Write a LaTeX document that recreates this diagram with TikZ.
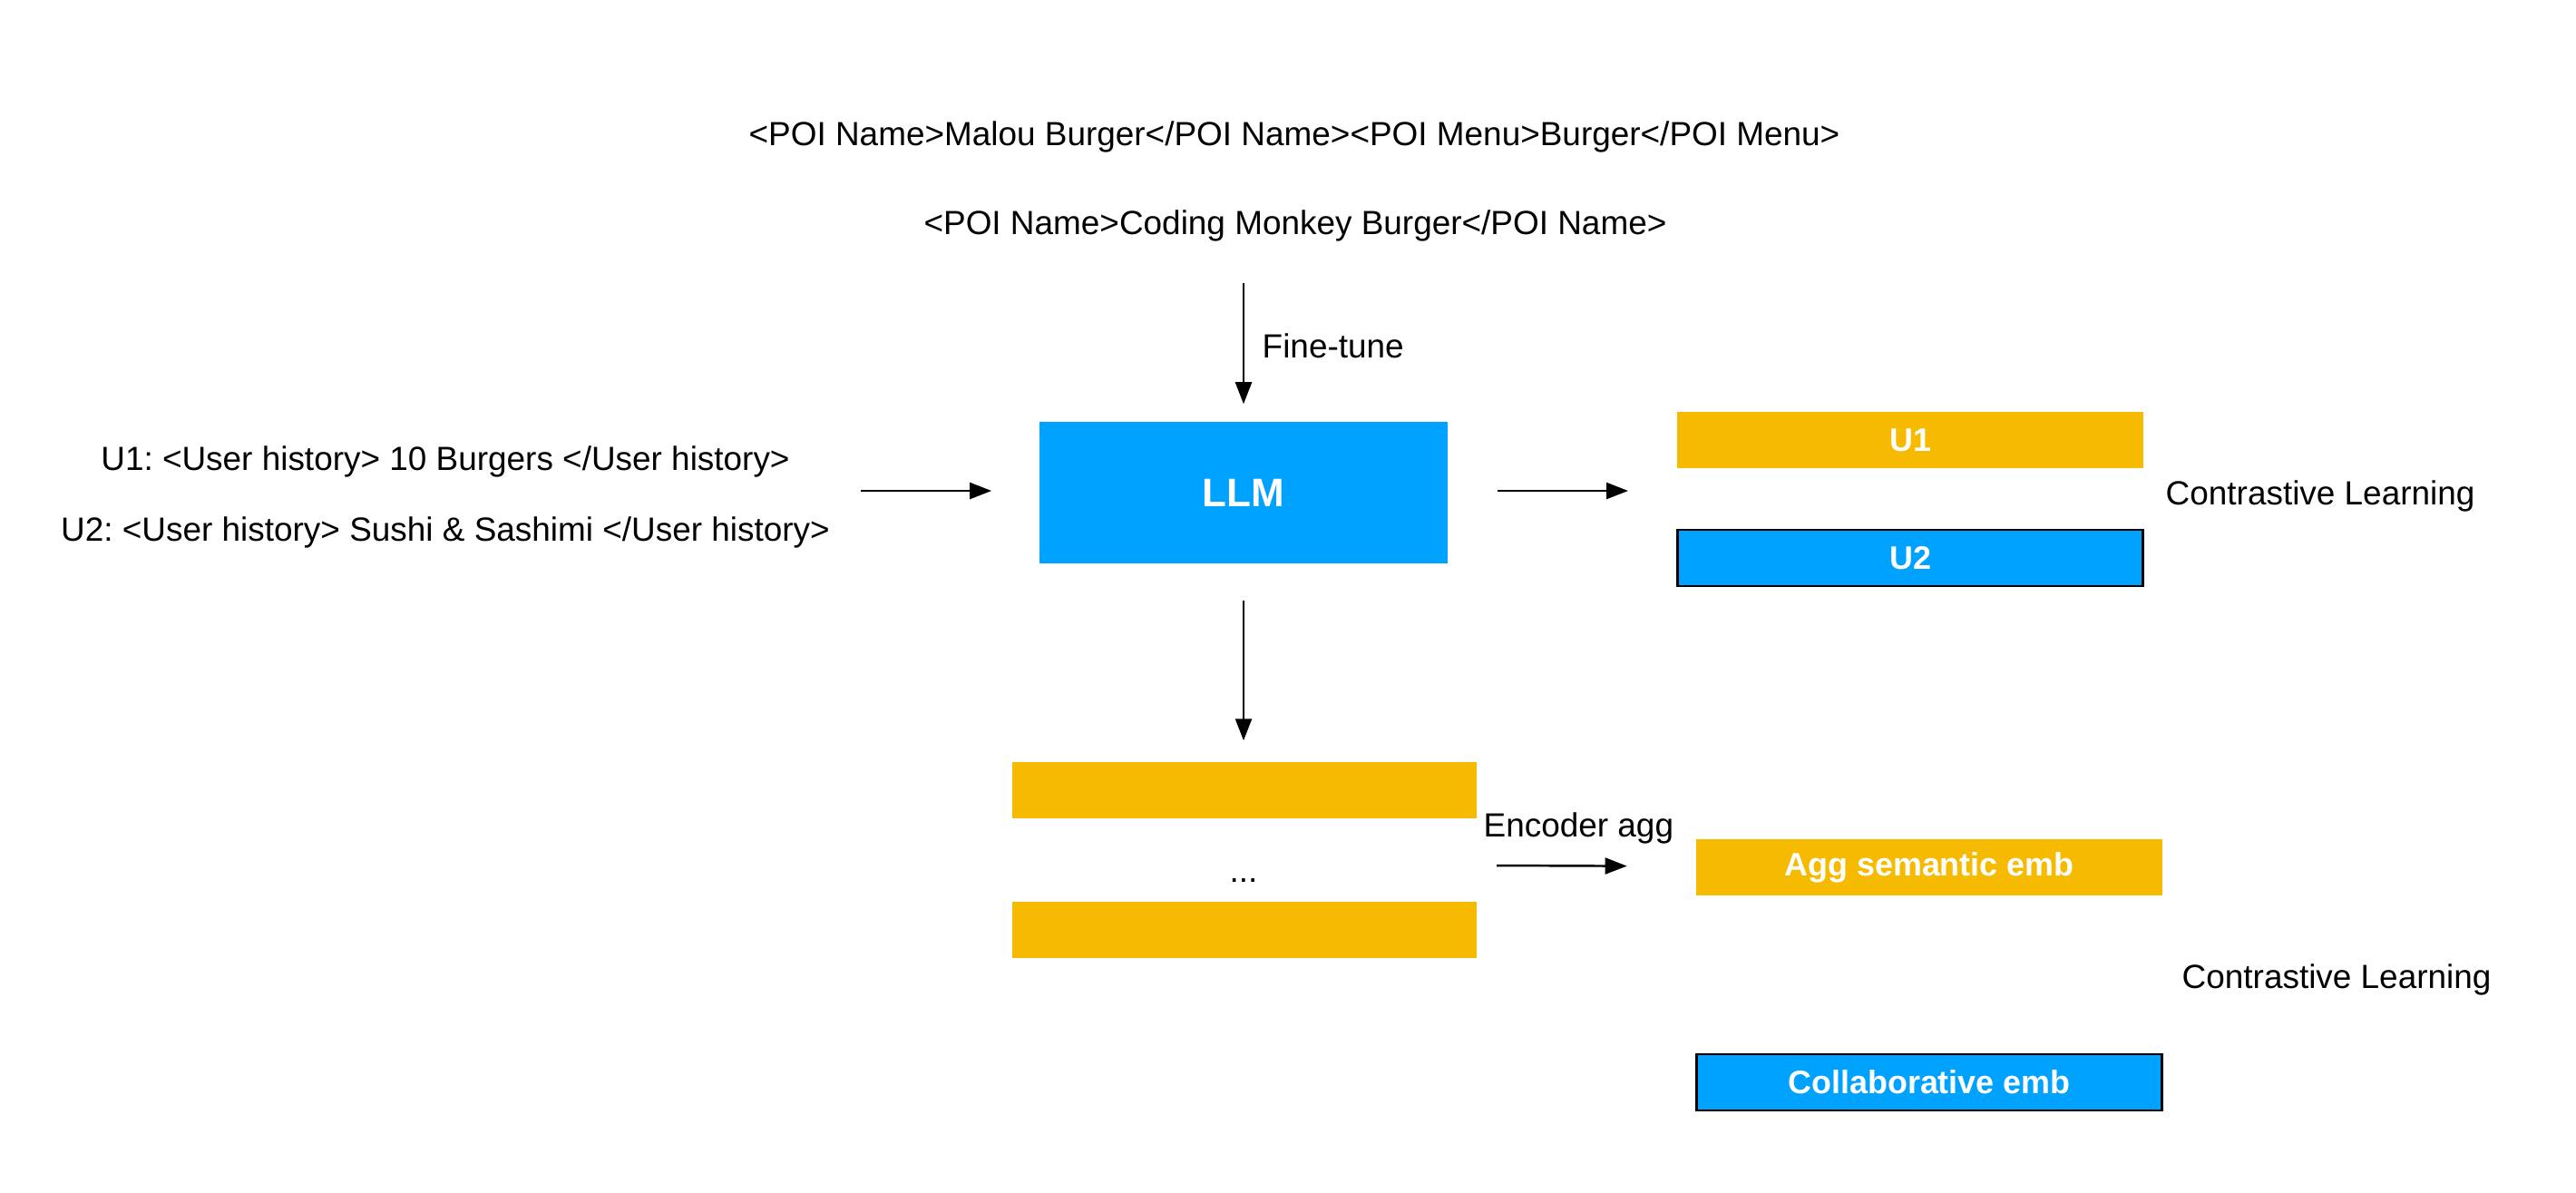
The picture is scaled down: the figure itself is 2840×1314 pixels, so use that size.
\documentclass[tikz,border=0pt]{standalone}
\usepackage{fontspec}
\setmainfont{Liberation Sans}
\usepackage{tikz}
\usetikzlibrary{arrows.meta,positioning}
\definecolor{barorange}{HTML}{F6BB00}
\definecolor{barblue}{HTML}{00A2FF}
\frenchspacing

\begin{document}
\begin{tikzpicture}[x=0.01cm,y=-0.01cm,
  txt/.style={font=\fontsize{10.5}{12}\selectfont, inner sep=0pt, yshift=-0.04cm},
  bar/.style={minimum width=5.13cm, minimum height=0.62cm, inner sep=0pt, text=white, font=\fontsize{10.2}{12}\selectfont\bfseries},
  obar/.style={bar, fill=barorange},
  bbar/.style={bar, fill=barblue, draw=black, line width=0.8pt},
  arr/.style={-{Triangle[length=2.4mm,width=1.8mm]}, line width=0.7pt}]
\useasboundingbox (0,0) rectangle (2840,1314);
%%%%% POI texts and fine-tune:
\node[txt] (poi1) at (1427,147) {<POI Name>Malou Burger</POI Name><POI Menu>Burger</POI Menu>};
\node[txt] (poi2) at (1428,245) {<POI Name>Coding Monkey Burger</POI Name>};
\node[minimum width=4.5cm, minimum height=1.56cm, fill=barblue, text=white, font=\fontsize{12.5}{14}\selectfont\bfseries] (llm) at (1371,543) {LLM};
\coordinate (ftstart) at (1371,312);
\draw[arr, shorten >=0.19cm] (ftstart) -- (llm);
\node[txt, anchor=west] (ftlabel) at (1391,377) {Fine-tune};
%%%%% user histories:
\node[txt] (hist1) at (491,505) {U1: <User history> 10 Burgers </User history>};
\node[txt] (hist2) at (491,583) {U2: <User history> Sushi \& Sashimi </User history>};
\coordinate (histout) at (949,541);
\draw[arr, shorten >=0.52cm] (histout) -- (llm.west |- histout);
%%%%% user embeddings:
\node[obar] (u1) at (2106,485) {U1};
\node[bbar] (u2) at (2106,615) {U2};
\coordinate (userin) at (1795,541);
\draw[arr, shorten <=0.54cm] (llm.east |- userin) -- (userin);
\node[txt, anchor=west] (cl1) at (2387,543) {Contrastive Learning};
%%%%% token embeddings:
\node[obar, minimum width=5.12cm] (tok1) at (1372,871) {};
\node[txt] (dots) at (1371,966) {...};
\node[obar, minimum width=5.12cm] (tok2) at (1372,1025) {};
\draw[arr, shorten <=0.4cm, shorten >=0.23cm] (llm) -- (llm |- tok1.north);
\node[txt, anchor=west] (enclabel) at (1635,909) {Encoder agg};
\node[obar] (agg) at (2127,956) {Agg semantic emb};
\node[bbar] (collab) at (2127,1193) {Collaborative emb};
\coordinate (encout) at (1650,954);
\draw[arr, shorten >=0.76cm] (encout) -- (agg);
\node[txt, anchor=west] (cl2) at (2405,1076) {Contrastive Learning};
\end{tikzpicture}
\end{document}
